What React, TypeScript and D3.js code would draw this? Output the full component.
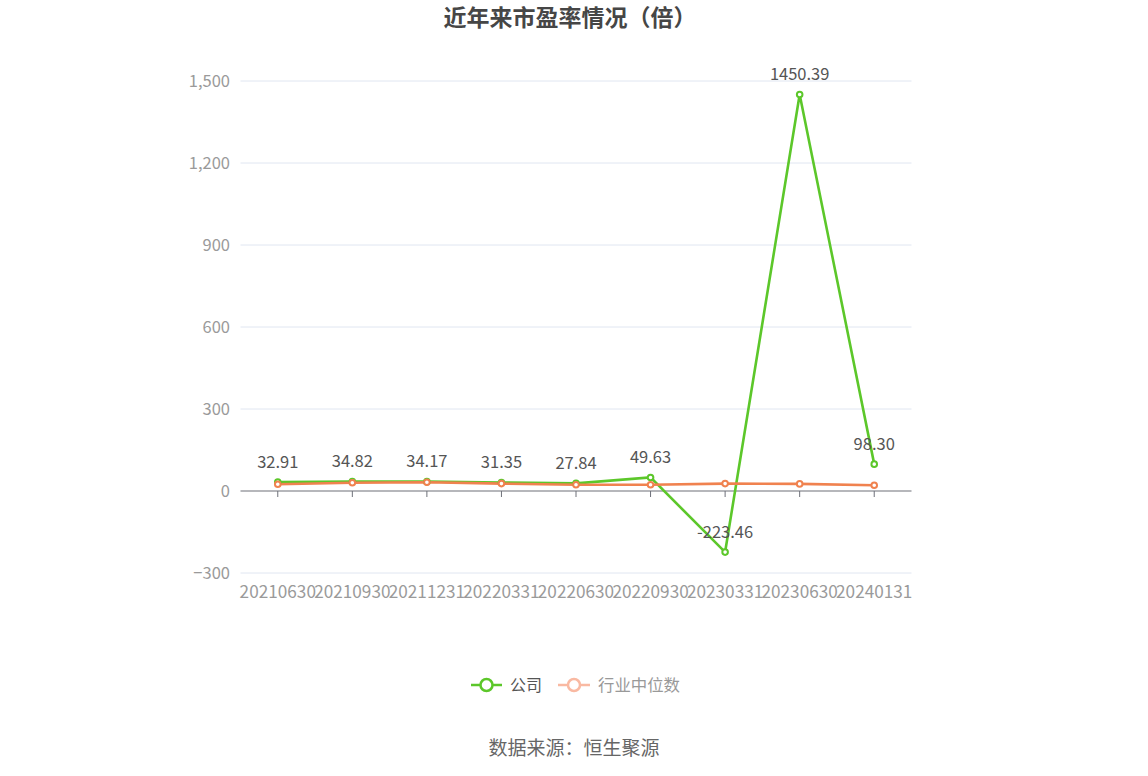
import React from "react";
import * as d3 from "d3";

const categories = ["20210630","20210930","20211231","20220331","20220630","20220930","20230331","20230630","20240131"];
const companyPE = [32.91, 34.82, 34.17, 31.35, 27.84, 49.63, -223.46, 1450.39, 98.30];
const industryPE = [24.5, 30, 32, 27, 23, 23, 27, 26, 21];
const yTicks = [-300, 0, 300, 600, 900, 1200, 1500];

const W = 1148, H = 776;
const FONT = "'Noto Sans CJK SC', 'Noto Sans', sans-serif";
const GREEN = "#5cc72a";
const ORANGE = "#f0824f";

export default function App() {
  const x = d3.scaleBand<string>().domain(categories).range([240.5, 911.5]);
  const cx = (c: string) => (x(c) as number) + x.bandwidth() / 2;
  const y = d3.scaleLinear().domain([-300, 1500]).range([573, 81]);
  const line = d3.line<number>().x((_, i) => cx(categories[i])).y(d => y(d));
  const fmt = d3.format(",");
  return (
    <svg width={W} height={H} style={{ position: "absolute", left: 0, top: 0, fontFamily: FONT }}>
      <rect width={W} height={H} fill="#fff" />
      <text x={570} y={18} dy="0.35em" textAnchor="middle" fontSize={23} fontWeight="bold" fill="#464646">近年来市盈率情况（倍）</text>
      {yTicks.map(t => (
        <g key={t}>
          {t !== 0 && <line x1={240.5} x2={911.5} y1={y(t)} y2={y(t)} stroke="#e0e6f1" strokeWidth={1} />}
          <text x={230} y={y(t)} dy="0.35em" textAnchor="end" fontSize={16.5} fill="#9a9a9a">{fmt(t)}</text>
        </g>
      ))}
      <line x1={240.5} x2={911.5} y1={y(0)} y2={y(0)} stroke="#6e7079" strokeWidth={1.2} />
      {categories.map(c => (
        <g key={c}>
          <line x1={cx(c)} x2={cx(c)} y1={y(0)} y2={y(0) + 6} stroke="#6e7079" strokeWidth={1} />
          <text x={cx(c)} y={592} dy="0.35em" textAnchor="middle" fontSize={17.2} fill="#9a9a9a">{c}</text>
        </g>
      ))}
      <path d={line(companyPE) || ""} fill="none" stroke={GREEN} strokeWidth={2.6} />
      <path d={line(industryPE) || ""} fill="none" stroke={ORANGE} strokeWidth={2.6} />
      {companyPE.map((v, i) => (
        <circle key={"g" + i} cx={cx(categories[i])} cy={y(v)} r={2.8} fill="#fff" stroke={GREEN} strokeWidth={2} />
      ))}
      {industryPE.map((v, i) => (
        <circle key={"o" + i} cx={cx(categories[i])} cy={y(v)} r={2.8} fill="#fff" stroke={ORANGE} strokeWidth={2} />
      ))}
      {companyPE.map((v, i) => (
        <text key={"l" + i} x={cx(categories[i])} y={y(v) - 20} dy="0.35em" textAnchor="middle" fontSize={16.5} fill="#555">{v.toFixed(2)}</text>
      ))}
      <g>
        <line x1={471} x2={502} y1={685} y2={685} stroke={GREEN} strokeWidth={2.5} />
        <circle cx={486.5} cy={685} r={6} fill="#fff" stroke={GREEN} strokeWidth={2.5} />
        <text x={510} y={685} dy="0.35em" fontSize={16} fill="#555">公司</text>
        <line x1={558} x2={590} y1={685} y2={685} stroke="#f9b9a2" strokeWidth={2.5} />
        <circle cx={574} cy={685} r={6} fill="#fff" stroke="#f9b9a2" strokeWidth={2.5} />
        <text x={598} y={685} dy="0.35em" fontSize={16.4} fill="#999">行业中位数</text>
      </g>
      <text x={574} y={748} dy="0.35em" textAnchor="middle" fontSize={19} fill="#666">数据来源：恒生聚源</text>
    </svg>
  );
}
